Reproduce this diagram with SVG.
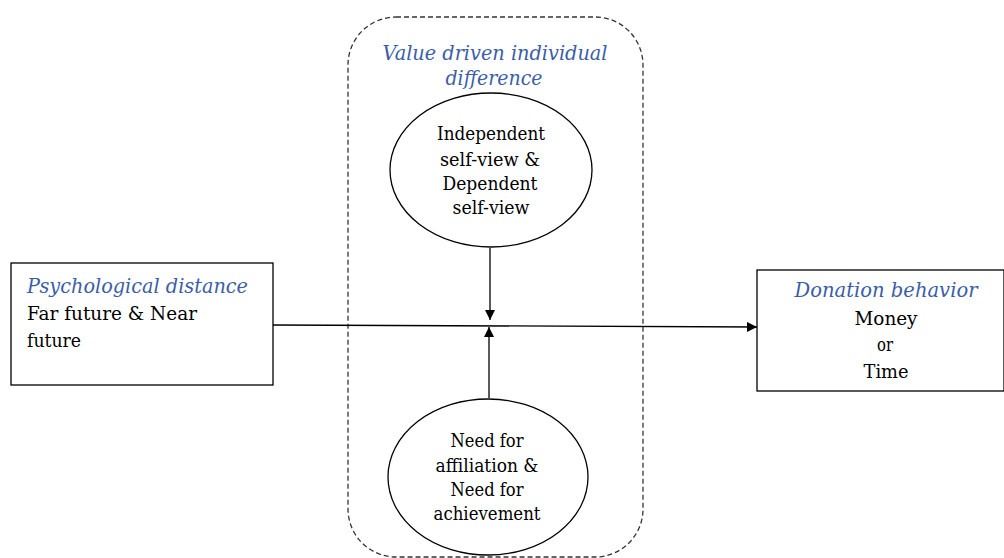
<svg xmlns="http://www.w3.org/2000/svg" width="1004" height="558" viewBox="0 0 1004 558">
<style>
.box{fill:#fff;stroke:#000;stroke-width:1.3}
.ell{fill:#fff;stroke:#000;stroke-width:1.3}
.t{font-size:19px;fill:#000}
.b{font-size:20px;font-style:italic;fill:#3b5ea6}
.c{text-anchor:middle}
.ln{stroke:#000;stroke-width:1.3;fill:none}
</style>
<defs>
<marker id="ah" viewBox="0 0 10 10" refX="10" refY="5" markerWidth="10" markerHeight="10" markerUnits="userSpaceOnUse" orient="auto">
<path d="M0,0 L10,5 L0,10 z" fill="#000"/>
</marker>
</defs>
<rect width="1004" height="558" fill="#fff"/>
<g font-family="DejaVu Serif, Liberation Serif, serif">
<g id="group-value">
<rect x="348" y="17" width="295" height="540" rx="48" ry="48" fill="none" stroke="#333" stroke-width="1.3" stroke-dasharray="5,3"/>
<text class="b c" x="495" y="60" textLength="225" lengthAdjust="spacingAndGlyphs">Value driven individual</text>
<text class="b c" x="494" y="85" textLength="97" lengthAdjust="spacingAndGlyphs">difference</text>
</g>
<g id="connectors">
<line class="ln" x1="273" y1="325" x2="757" y2="327" marker-end="url(#ah)"/>
<line class="ln" x1="490" y1="248" x2="490" y2="320" marker-end="url(#ah)"/>
<line class="ln" x1="489" y1="398" x2="489" y2="327" marker-end="url(#ah)"/>
</g>
<g id="node-psych">
<rect class="box" x="11" y="263" width="262" height="122"/>
<text class="b" x="27" y="293" textLength="221" lengthAdjust="spacingAndGlyphs">Psychological distance</text>
<text class="t" x="27" y="320" textLength="170" lengthAdjust="spacingAndGlyphs">Far future &amp; Near</text>
<text class="t" x="27" y="347" textLength="54" lengthAdjust="spacingAndGlyphs">future</text>
</g>
<g id="node-donation">
<rect class="box" x="757" y="270" width="247" height="121"/>
<text class="b c" x="886" y="297" textLength="183" lengthAdjust="spacingAndGlyphs">Donation behavior</text>
<text class="t c" x="886" y="325" textLength="63" lengthAdjust="spacingAndGlyphs">Money</text>
<text class="t c" x="885" y="351" textLength="16" lengthAdjust="spacingAndGlyphs">or</text>
<text class="t c" x="886" y="378" textLength="45" lengthAdjust="spacingAndGlyphs">Time</text>
</g>
<g id="node-selfview">
<ellipse class="ell" cx="491" cy="170" rx="101" ry="77"/>
<text class="t c" x="491" y="140" textLength="108" lengthAdjust="spacingAndGlyphs">Independent</text>
<text class="t c" x="490" y="166" textLength="100" lengthAdjust="spacingAndGlyphs">self-view &amp;</text>
<text class="t c" x="490" y="190" textLength="95" lengthAdjust="spacingAndGlyphs">Dependent</text>
<text class="t c" x="491" y="214" textLength="77" lengthAdjust="spacingAndGlyphs">self-view</text>
</g>
<g id="node-need">
<ellipse class="ell" cx="488" cy="477" rx="100" ry="78"/>
<text class="t c" x="487" y="447" textLength="73" lengthAdjust="spacingAndGlyphs">Need for</text>
<text class="t c" x="487" y="472" textLength="103" lengthAdjust="spacingAndGlyphs">affiliation &amp;</text>
<text class="t c" x="487" y="496" textLength="73" lengthAdjust="spacingAndGlyphs">Need for</text>
<text class="t c" x="487" y="520" textLength="107" lengthAdjust="spacingAndGlyphs">achievement</text>
</g>
</g>
</svg>
